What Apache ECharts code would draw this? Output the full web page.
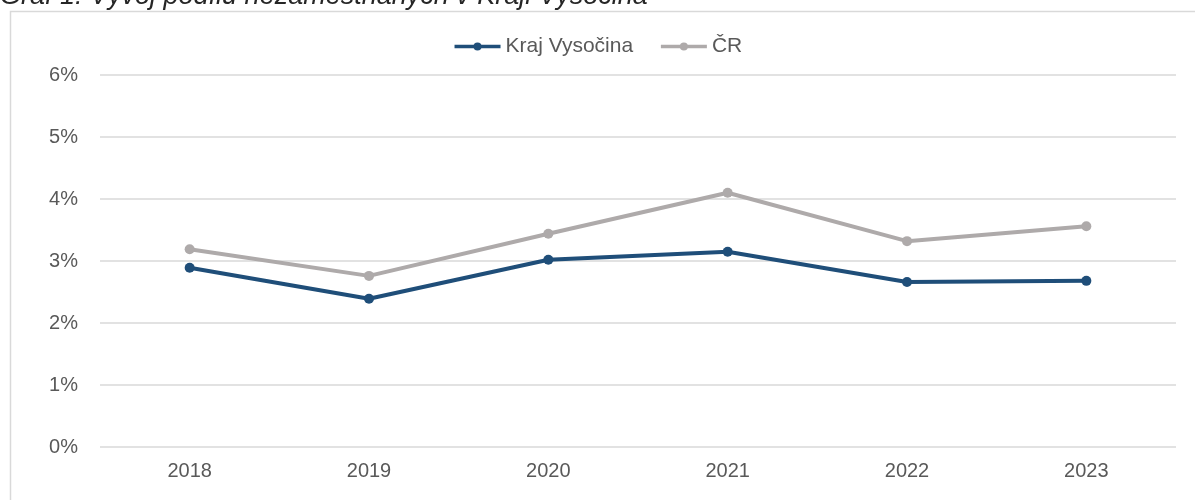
<!DOCTYPE html>
<html>
<head>
<meta charset="utf-8">
<script src="https://cdn.jsdelivr.net/npm/echarts@6/dist/echarts.min.js"></script>
<style>
html,body{margin:0;padding:0;background:#fff;}
#chart{width:1195px;height:500px;}
</style>
</head>
<body>
<div id="chart"></div>
<script>
var titleText = 'Graf 1: Vývoj podílu nezaměstnaných v Kraji Vysočina';
var years = ['2018', '2019', '2020', '2021', '2022', '2023'];
var krajVysocina = [2.89, 2.39, 3.02, 3.15, 2.66, 2.68];
var cr = [3.19, 2.76, 3.44, 4.10, 3.32, 3.56];
var seriesNames = ['Kraj Vysočina', 'ČR'];

var chart = echarts.init(document.getElementById('chart'));
var font = '"Liberation Sans", Arial, sans-serif';
chart.setOption({
  animation: false,
  textStyle: { fontFamily: font },
  graphic: [
    { type: 'rect', shape: { x: 10.5, y: 11.5, width: 1400, height: 700 },
      style: { fill: 'none', stroke: '#d9d9d9', lineWidth: 1.5 }, silent: true },
    { type: 'text', x: 0, y: 10,
      style: { text: titleText, font: 'italic 27px ' + font, fill: '#262626',
               textVerticalAlign: 'bottom', verticalAlign: 'bottom' } }
  ],
  legend: {
    top: 31, left: 'center',
    itemWidth: 46, itemHeight: 10, itemGap: 26,
    lineStyle: { width: 3.5 },
    textStyle: { fontSize: 21, color: '#595959', fontFamily: font },
    data: seriesNames
  },
  grid: { left: 100, right: 19, top: 75, bottom: 53 },
  xAxis: {
    type: 'category', data: years, boundaryGap: true,
    axisLine: { show: false }, axisTick: { show: false },
    axisLabel: { fontSize: 20, color: '#595959', margin: 14 }
  },
  yAxis: {
    type: 'value', min: 0, max: 6, interval: 1,
    axisLabel: { fontSize: 20, color: '#595959', margin: 22, formatter: '{value}%' },
    splitLine: { lineStyle: { color: '#d9d9d9', width: 1.5 } },
    axisLine: { show: false }, axisTick: { show: false }
  },
  series: [
    { name: seriesNames[0], type: 'line', data: krajVysocina,
      symbol: 'circle', symbolSize: 10,
      lineStyle: { color: '#1F4E79', width: 4 },
      itemStyle: { color: '#1F4E79' } },
    { name: seriesNames[1], type: 'line', data: cr,
      symbol: 'circle', symbolSize: 10,
      lineStyle: { color: '#AEAAAA', width: 4 },
      itemStyle: { color: '#AEAAAA' } }
  ]
});
</script>
</body>
</html>
